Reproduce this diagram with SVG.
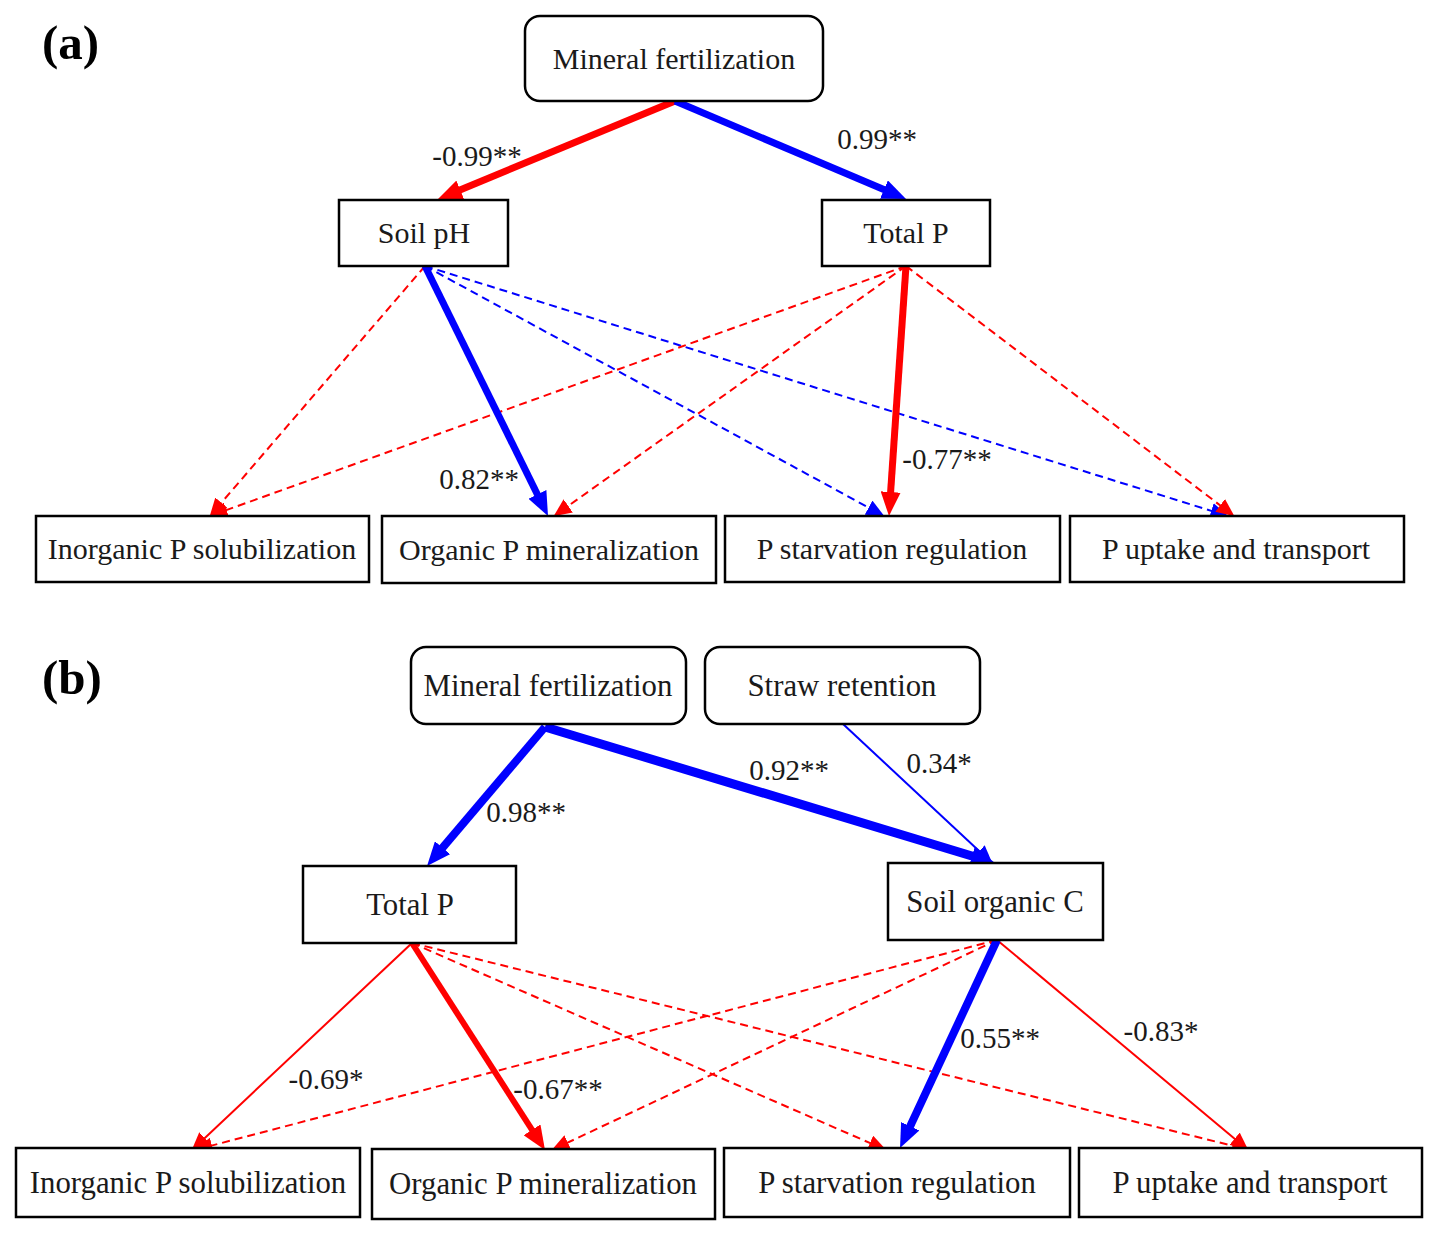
<svg xmlns="http://www.w3.org/2000/svg" width="1438" height="1235" viewBox="0 0 1438 1235">
<style>
.box{fill:#fff;stroke:#000;stroke-width:2.5}
.t{font-family:"Liberation Serif","Times New Roman",serif;font-size:30px;fill:#1a1a1a;text-anchor:middle}
.tb{font-size:30.8px}
.lab{font-family:"Liberation Serif","Times New Roman",serif;font-size:29px;fill:#1a1a1a;text-anchor:middle}
.pan{font-family:"Liberation Serif","Times New Roman",serif;font-size:49px;font-weight:bold;fill:#000}
.r{stroke:#ff0000;fill:none}
.b{stroke:#0000ff;fill:none}
.d{stroke-width:2;stroke-dasharray:8,5}
.s{stroke-width:2}
</style>
<defs>
<marker id="rB" markerUnits="userSpaceOnUse" markerWidth="24" markerHeight="20" refX="12" refY="10" orient="auto"><path d="M0,0 L24,10 L0,20 z" fill="#ff0000"/></marker>
<marker id="bB" markerUnits="userSpaceOnUse" markerWidth="24" markerHeight="20" refX="12" refY="10" orient="auto"><path d="M0,0 L24,10 L0,20 z" fill="#0000ff"/></marker>
<marker id="rS" markerUnits="userSpaceOnUse" markerWidth="18" markerHeight="16" refX="9" refY="8" orient="auto"><path d="M0,0 L18,8 L0,16 z" fill="#ff0000"/></marker>
<marker id="bS" markerUnits="userSpaceOnUse" markerWidth="18" markerHeight="16" refX="9" refY="8" orient="auto"><path d="M0,0 L18,8 L0,16 z" fill="#0000ff"/></marker>
</defs>
<rect width="1438" height="1235" fill="#fff"/>

<g id="connectors">
<!-- panel a -->
<line class="r d" x1="425" y1="266" x2="215.5" y2="509.6" marker-end="url(#rS)"/>
<line class="b d" x1="425" y1="266" x2="876.5" y2="511.9" marker-end="url(#bS)"/>
<line class="b d" x1="425" y1="266" x2="1219.9" y2="513.5" marker-end="url(#bS)"/>
<line class="r d" x1="906" y1="266" x2="218" y2="513.1" marker-end="url(#rS)"/>
<line class="r d" x1="906" y1="266" x2="560.9" y2="511.1" marker-end="url(#rS)"/>
<line class="r d" x1="906" y1="266" x2="1227.3" y2="510.8" marker-end="url(#rS)"/>
<line class="r" stroke-width="7" x1="675" y1="101" x2="449.1" y2="194.4" marker-end="url(#rB)"/>
<line class="b" stroke-width="7" x1="675" y1="101" x2="895" y2="194.3" marker-end="url(#bB)"/>
<line class="b" stroke-width="7" x1="425" y1="266" x2="542.7" y2="505.2" marker-end="url(#bB)"/>
<line class="r" stroke-width="7" x1="906" y1="266" x2="889.8" y2="504" marker-end="url(#rB)"/>
<!-- panel b -->
<line class="r d" x1="412" y1="943" x2="878.2" y2="1146.6" marker-end="url(#rS)"/>
<line class="r d" x1="412" y1="943" x2="1241.7" y2="1148" marker-end="url(#rS)"/>
<line class="r d" x1="997" y1="940" x2="203.2" y2="1147.8" marker-end="url(#rS)"/>
<line class="r d" x1="997" y1="940" x2="559.7" y2="1146.4" marker-end="url(#rS)"/>
<line class="r s" x1="412" y1="943" x2="198.2" y2="1144.2" marker-end="url(#rS)"/>
<line class="r s" x1="997" y1="940" x2="1241.5" y2="1144.5" marker-end="url(#rS)"/>
<line class="r" stroke-width="6" x1="412" y1="943" x2="538.5" y2="1139.9" marker-end="url(#rB)"/>
<line class="b" stroke-width="8" x1="997" y1="940" x2="905.1" y2="1137.1" marker-end="url(#bB)"/>
<line class="b s" x1="843" y1="724" x2="985.8" y2="857.2" marker-end="url(#bS)"/>
<line class="b" stroke-width="8" x1="545" y1="727" x2="434.8" y2="856.9" marker-end="url(#bB)"/>
<line class="b" stroke-width="9" x1="545" y1="727" x2="983.5" y2="859.5" marker-end="url(#bB)"/>
</g>

<g id="labels">
<text class="lab" x="477" y="166">-0.99**</text>
<text class="lab" x="877" y="149">0.99**</text>
<text class="lab" x="479" y="489">0.82**</text>
<text class="lab" x="947" y="469">-0.77**</text>
<text class="lab" x="526" y="822">0.98**</text>
<text class="lab" x="789" y="780">0.92**</text>
<text class="lab" x="939" y="773">0.34*</text>
<text class="lab" x="326" y="1089">-0.69*</text>
<text class="lab" x="558" y="1099">-0.67**</text>
<text class="lab" x="1000" y="1048">0.55**</text>
<text class="lab" x="1161" y="1041">-0.83*</text>
</g>

<text class="pan" x="42" y="59">(a)</text>
<text class="pan" x="42" y="694">(b)</text>

<!-- panel a nodes -->
<g id="a-mineral"><rect class="box" x="525" y="16" width="298" height="85" rx="15"/><text class="t" x="674" y="69">Mineral fertilization</text></g>
<g id="a-soilph"><rect class="box" x="339" y="200" width="169" height="66"/><text class="t" x="424" y="243">Soil pH</text></g>
<g id="a-totalp"><rect class="box" x="822" y="200" width="168" height="66"/><text class="t" x="906" y="243">Total P</text></g>
<g id="a-inorg"><rect class="box" x="36" y="516" width="333" height="66"/><text class="t" x="202" y="559">Inorganic P solubilization</text></g>
<g id="a-org"><rect class="box" x="382" y="516" width="334" height="67"/><text class="t" x="549" y="560">Organic P mineralization</text></g>
<g id="a-starv"><rect class="box" x="725" y="516" width="335" height="66"/><text class="t" x="892" y="559">P starvation regulation</text></g>
<g id="a-uptake"><rect class="box" x="1070" y="516" width="334" height="66"/><text class="t" x="1236" y="559">P uptake and transport</text></g>

<!-- panel b nodes -->
<g id="b-mineral"><rect class="box" x="411" y="647" width="275" height="77" rx="15"/><text class="t tb" x="548" y="696">Mineral fertilization</text></g>
<g id="b-straw"><rect class="box" x="705" y="647" width="275" height="77" rx="15"/><text class="t tb" x="842" y="696">Straw retention</text></g>
<g id="b-totalp"><rect class="box" x="303" y="866" width="213" height="77"/><text class="t tb" x="410" y="915">Total P</text></g>
<g id="b-soc"><rect class="box" x="888" y="863" width="215" height="77"/><text class="t tb" x="995" y="912">Soil organic C</text></g>
<g id="b-inorg"><rect class="box" x="16" y="1148" width="344" height="69"/><text class="t tb" x="188" y="1193">Inorganic P solubilization</text></g>
<g id="b-org"><rect class="box" x="372" y="1149" width="343" height="70"/><text class="t tb" x="543" y="1194">Organic P mineralization</text></g>
<g id="b-starv"><rect class="box" x="724" y="1148" width="346" height="69"/><text class="t tb" x="897" y="1193">P starvation regulation</text></g>
<g id="b-uptake"><rect class="box" x="1079" y="1148" width="343" height="69"/><text class="t tb" x="1250" y="1193">P uptake and transport</text></g>
</svg>
